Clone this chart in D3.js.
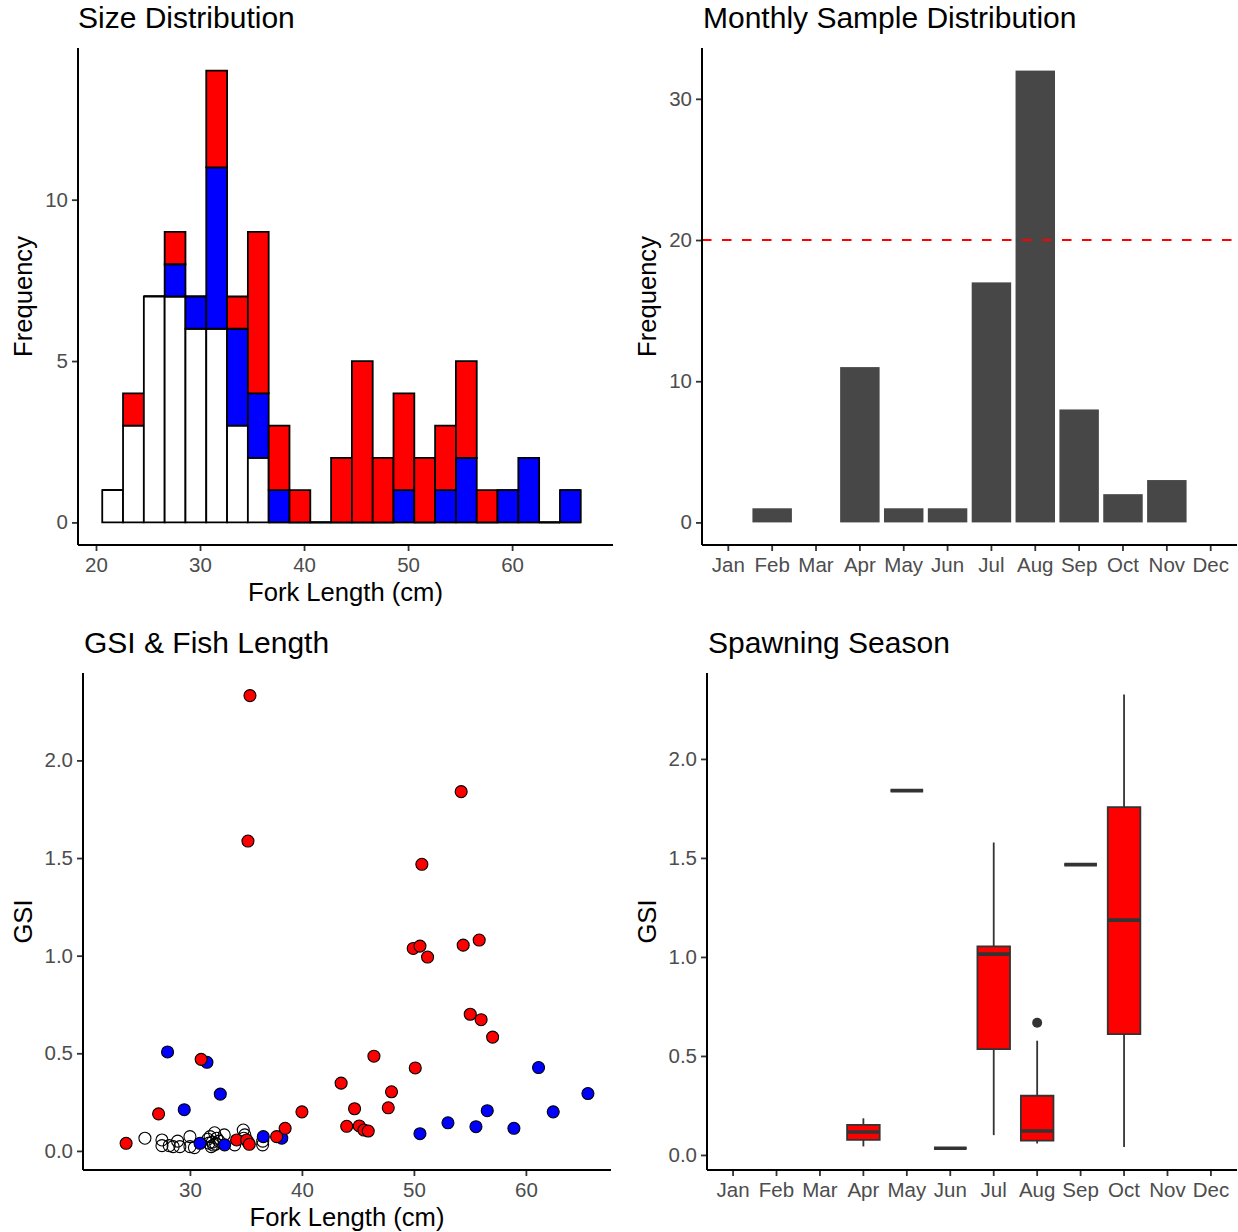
<!DOCTYPE html>
<html>
<head>
<meta charset="utf-8">
<script src="https://cdn.jsdelivr.net/npm/d3@7"></script>
<style>
  body { margin: 0; background: #fff; }
  text { font-family: "Liberation Sans", Arial, sans-serif; }
</style>
</head>
<body>
<div id="chart"></div>
<script>
// Canvas size
const WIDTH = 1238;
const HEIGHT = 1232;

// Colours
const RED = "#FF0000";
const BLUE = "#0000FF";
const BAR_GREY = "#474747";
const TICK_COLOUR = "#333333";
const LABEL_COLOUR = "#4D4D4D";

// ---- Size distribution (stacked histogram, binwidth 2) ----
const binStart = 20.6;
const binWidth = 2;
const whiteCounts = [1, 3, 7, 7, 6, 6, 3, 2, 0, 0, 0, 0, 0, 0, 0, 0, 0, 0, 0, 0, 0, 0, 0];
const blueCounts  = [0, 0, 0, 1, 1, 5, 3, 2, 1, 0, 0, 0, 0, 0, 1, 0, 1, 2, 0, 1, 2, 0, 1];
const redCounts   = [0, 1, 0, 1, 0, 3, 1, 5, 2, 1, 0, 2, 5, 2, 3, 2, 2, 3, 1, 0, 0, 0, 0];
const histXTicks = [20, 30, 40, 50, 60];
const histYTicks = [0, 5, 10];

// ---- Monthly samples ----
const months = ["Jan", "Feb", "Mar", "Apr", "May", "Jun", "Jul", "Aug", "Sep", "Oct", "Nov", "Dec"];
const monthCounts = [0, 1, 0, 11, 1, 1, 17, 32, 8, 2, 3, 0];
const sampleTarget = 20;
const monthYTicks = [0, 10, 20, 30];

// ---- GSI vs fork length: [length, gsi] ----
const openFish = [
  [25.98, 0.065], [27.5, 0.056], [27.5, 0.027], [28.15, 0.027], [28.5, 0.022],
  [28.9, 0.05], [29.1, 0.022], [30.0, 0.073], [30.0, 0.022], [30.4, 0.017],
  [31.6, 0.06], [31.8, 0.073], [31.9, 0.022], [32.0, 0.045], [32.2, 0.093],
  [32.3, 0.035], [32.4, 0.065], [32.6, 0.05], [32.1, 0.03], [31.7, 0.04],
  [33.06, 0.082], [34.0, 0.031], [34.76, 0.107], [34.9, 0.082], [34.8, 0.065],
  [36.49, 0.031], [36.5, 0.05], [35.2, 0.045]
];
const blueFish = [
  [28.0, 0.507], [29.49, 0.211], [30.9, 0.039], [31.52, 0.454], [32.71, 0.291],
  [33.1, 0.031], [36.55, 0.073], [38.2, 0.065], [50.54, 0.088], [53.04, 0.144],
  [55.54, 0.124], [56.55, 0.206], [58.93, 0.116], [61.13, 0.427], [62.44, 0.2],
  [65.54, 0.294]
];
const redFish = [
  [24.3, 0.039], [27.2, 0.19], [31.0, 0.469], [34.17, 0.056], [35.06, 0.056],
  [35.3, 0.034], [35.36, 2.332], [35.18, 1.587], [37.74, 0.073], [38.5, 0.116],
  [40.0, 0.2], [43.5, 0.347], [44.0, 0.126], [44.7, 0.216], [45.12, 0.128],
  [45.54, 0.107], [45.92, 0.102], [46.43, 0.485], [47.71, 0.221], [48.0, 0.303],
  [49.94, 1.037], [50.12, 0.425], [50.54, 1.049], [50.71, 1.468], [51.22, 0.993],
  [54.22, 1.84], [54.4, 1.054], [55.03, 0.70], [55.83, 1.08], [56.0, 0.672],
  [57.03, 0.583]
];
const scatterXTicks = [30, 40, 50, 60];
const gsiTicks = [0, 0.5, 1, 1.5, 2];

// ---- Spawning season boxplots ----
const boxMonths = ["Apr", "May", "Jun", "Jul", "Aug", "Sep", "Oct"];
const boxLow    = [0.043, 1.84, 0.034, 0.10, 0.058, 1.466, 0.04];
const boxQ1     = [0.076, 1.84, 0.034, 0.534, 0.072, 1.466, 0.61];
const boxMedian = [0.116, 1.84, 0.034, 1.014, 0.121, 1.466, 1.186];
const boxQ3     = [0.152, 1.84, 0.034, 1.053, 0.299, 1.466, 1.757];
const boxHigh   = [0.185, 1.84, 0.034, 1.578, 0.577, 1.466, 2.326];
const boxOutlierMonths = ["Aug"];
const boxOutlierValues = [0.668];

// Panel boxes (pixel areas)
const P1 = {left: 78, right: 613, top: 48, bottom: 545};
const P2 = {left: 702, right: 1237, top: 48, bottom: 545};
const P3 = {left: 83, right: 611, top: 673, bottom: 1170};
const P4 = {left: 707, right: 1237, top: 673, bottom: 1170};

const svg = d3.select("#chart")
  .append("svg")
  .attr("width", WIDTH)
  .attr("height", HEIGHT);

// ggplot-like 5% expansion
function expand(lo, hi) {
  let r = hi - lo;
  return [lo - 0.05 * r, hi + 0.05 * r];
}

// draw classic axes with titles
function drawAxes(p, x, y, opts) {
  let xAxis = d3.axisBottom(x).tickSize(6).tickPadding(6).tickSizeOuter(0);
  if (opts.xTicks) xAxis.tickValues(opts.xTicks);
  if (opts.xFormat) xAxis.tickFormat(opts.xFormat);
  let yAxis = d3.axisLeft(y).tickValues(opts.yTicks).tickSize(6).tickPadding(4).tickSizeOuter(0);
  if (opts.yFormat) yAxis.tickFormat(opts.yFormat);

  let gx = svg.append("g").attr("transform", `translate(0,${p.bottom})`).call(xAxis);
  let gy = svg.append("g").attr("transform", `translate(${p.left},0)`).call(yAxis);
  [gx, gy].forEach(g => {
    g.select(".domain").remove();
    g.selectAll(".tick line").attr("stroke", TICK_COLOUR).attr("stroke-width", 1.8);
    g.selectAll(".tick text").attr("fill", LABEL_COLOUR).style("font-size", "20.5px");
  });

  // axis lines across whole panel
  svg.append("line")
    .attr("x1", p.left).attr("x2", p.right)
    .attr("y1", p.bottom).attr("y2", p.bottom)
    .attr("stroke", "#000").attr("stroke-width", 2);
  svg.append("line")
    .attr("x1", p.left).attr("x2", p.left)
    .attr("y1", p.top).attr("y2", p.bottom)
    .attr("stroke", "#000").attr("stroke-width", 2);

  // titles
  svg.append("text")
    .attr("x", opts.titleX).attr("y", p.top - 20)
    .style("font-size", "30px")
    .text(opts.title);
  if (opts.xTitle) {
    svg.append("text")
      .attr("x", (p.left + p.right) / 2).attr("y", p.bottom + 56)
      .attr("text-anchor", "middle")
      .style("font-size", "25.6px")
      .text(opts.xTitle);
  }
  svg.append("text")
    .attr("transform", `translate(${opts.yTitleX},${(p.top + p.bottom) / 2}) rotate(-90)`)
    .attr("text-anchor", "middle")
    .style("font-size", "25.6px")
    .text(opts.yTitle);
}

// ---------- Panel 1: stacked histogram ----------
let nBins = whiteCounts.length;
let x1 = d3.scaleLinear()
  .domain([18.27, 69.7])
  .range([P1.left, P1.right]);
let maxStack = d3.max(d3.range(nBins), i => whiteCounts[i] + blueCounts[i] + redCounts[i]);
let y1 = d3.scaleLinear()
  .domain(expand(0, maxStack))
  .range([P1.bottom, P1.top]);

// build stacked segments: white bottom, blue, red top
let histSegs = [];
d3.range(nBins).forEach(i => {
  let base = 0;
  [[whiteCounts, "#FFFFFF"], [blueCounts, BLUE], [redCounts, RED]].forEach(([arr, col]) => {
    histSegs.push({x0: binStart + i * binWidth, x1: binStart + (i + 1) * binWidth, y0: base, y1: base + arr[i], fill: col});
    base += arr[i];
  });
});
// zero-height ones first so filled bars sit on top
histSegs.sort((a, b) => (a.y1 - a.y0 > 0) - (b.y1 - b.y0 > 0));
svg.append("g")
  .selectAll("path")
  .data(histSegs)
  .join("path")
  .attr("d", d => `M${x1(d.x0)},${y1(d.y0)}H${x1(d.x1)}V${y1(d.y1)}H${x1(d.x0)}Z`)
  .attr("fill", d => d.fill)
  .attr("stroke", "#000")
  .attr("stroke-width", 1.8);

drawAxes(P1, x1, y1, {
  xTicks: histXTicks, yTicks: histYTicks,
  title: "Size Distribution", titleX: 78,
  xTitle: "Fork Length (cm)", yTitle: "Frequency", yTitleX: 32
});

// ---------- Panel 2: monthly bars ----------
let x2 = d3.scaleBand()
  .domain(months)
  .range([P2.left, P2.right])
  .paddingInner(0.1)
  .paddingOuter(0.15);
let y2 = d3.scaleLinear()
  .domain(expand(0, d3.max(monthCounts)))
  .range([P2.bottom, P2.top]);

svg.append("g")
  .selectAll("rect")
  .data(months)
  .join("rect")
  .attr("x", d => x2(d))
  .attr("width", x2.bandwidth())
  .attr("y", (d, i) => y2(monthCounts[i]))
  .attr("height", (d, i) => y2(0) - y2(monthCounts[i]))
  .attr("fill", BAR_GREY);

svg.append("line")
  .attr("x1", P2.left).attr("x2", P2.right)
  .attr("y1", y2(sampleTarget)).attr("y2", y2(sampleTarget))
  .attr("stroke", RED)
  .attr("stroke-width", 2)
  .attr("stroke-dasharray", "9.5,10.5");

drawAxes(P2, x2, y2, {
  yTicks: monthYTicks,
  title: "Monthly Sample Distribution", titleX: 703,
  yTitle: "Frequency", yTitleX: 656
});

// ---------- Panel 3: GSI vs length scatter ----------
let x3 = d3.scaleLinear().domain([20.45, 67.6]).range([P3.left, P3.right]);
let y3 = d3.scaleLinear().domain(expand(0.018, 2.332)).range([P3.bottom, P3.top]);

let scatterGroups = [[openFish, "none"], [blueFish, BLUE], [redFish, RED]];
scatterGroups.forEach(([pts, col]) => {
  svg.append("g")
    .selectAll("circle")
    .data(pts)
    .join("circle")
    .attr("cx", d => x3(d[0]))
    .attr("cy", d => y3(d[1]))
    .attr("r", 6)
    .attr("fill", col)
    .attr("stroke", "#000")
    .attr("stroke-width", 1.1);
});

drawAxes(P3, x3, y3, {
  xTicks: scatterXTicks, yTicks: gsiTicks, yFormat: d3.format(".1f"),
  title: "GSI & Fish Length", titleX: 84,
  xTitle: "Fork Length (cm)", yTitle: "GSI", yTitleX: 32
});

// ---------- Panel 4: boxplots ----------
let x4 = d3.scaleBand()
  .domain(months)
  .range([P4.left, P4.right])
  .paddingInner(0.1)
  .paddingOuter(0.15);
let y4 = d3.scaleLinear().domain([-0.076, 2.434]).range([P4.bottom, P4.top]);
let boxW = x4.step() * 0.75;
let cx = m => x4(m) + x4.bandwidth() / 2;

let boxes = svg.append("g");
boxMonths.forEach((m, i) => {
  let c = cx(m);
  // whiskers
  boxes.append("line")
    .attr("x1", c).attr("x2", c)
    .attr("y1", y4(boxQ3[i])).attr("y2", y4(boxHigh[i]))
    .attr("stroke", TICK_COLOUR).attr("stroke-width", 1.8);
  boxes.append("line")
    .attr("x1", c).attr("x2", c)
    .attr("y1", y4(boxQ1[i])).attr("y2", y4(boxLow[i]))
    .attr("stroke", TICK_COLOUR).attr("stroke-width", 1.8);
  // box
  boxes.append("path")
    .attr("d", `M${c - boxW / 2},${y4(boxQ1[i])}H${c + boxW / 2}V${y4(boxQ3[i])}H${c - boxW / 2}Z`)
    .attr("fill", RED)
    .attr("stroke", TICK_COLOUR)
    .attr("stroke-width", 1.8);
  // median
  boxes.append("line")
    .attr("x1", c - boxW / 2).attr("x2", c + boxW / 2)
    .attr("y1", y4(boxMedian[i])).attr("y2", y4(boxMedian[i]))
    .attr("stroke", TICK_COLOUR).attr("stroke-width", 3.6);
});
boxes.selectAll("circle")
  .data(boxOutlierMonths)
  .join("circle")
  .attr("cx", d => cx(d))
  .attr("cy", (d, i) => y4(boxOutlierValues[i]))
  .attr("r", 5)
  .attr("fill", TICK_COLOUR);

drawAxes(P4, x4, y4, {
  yTicks: gsiTicks, yFormat: d3.format(".1f"),
  title: "Spawning Season", titleX: 708,
  yTitle: "GSI", yTitleX: 656
});
</script>
</body>
</html>
